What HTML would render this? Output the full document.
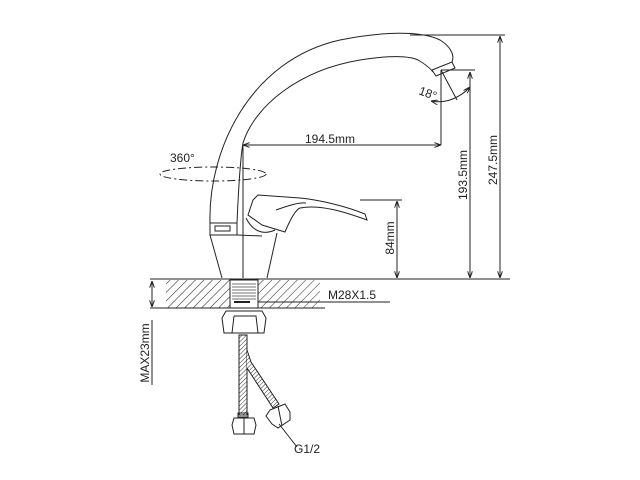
<!DOCTYPE html>
<html><head><meta charset="utf-8"><style>
html,body{margin:0;padding:0;background:#fff;width:640px;height:480px;overflow:hidden}
text{font-family:"Liberation Sans",sans-serif;fill:#222}
</style></head><body>
<svg width="640" height="480" viewBox="0 0 640 480" xmlns="http://www.w3.org/2000/svg">
<defs>
<pattern id="h" width="6" height="6" patternUnits="userSpaceOnUse" patternTransform="rotate(45)">
<line x1="0" y1="0" x2="0" y2="6" stroke="#222" stroke-width="1"/></pattern>
<pattern id="m" width="3" height="3" patternUnits="userSpaceOnUse" patternTransform="rotate(45)">
<rect width="3" height="3" fill="#fff"/><line x1="0" y1="0" x2="0" y2="3" stroke="#333" stroke-width="1"/></pattern>
<marker id="a" markerWidth="7" markerHeight="5" refX="7" refY="2.5" orient="auto-start-reverse" markerUnits="userSpaceOnUse"><path d="M0,0 L7,2.5 L0,5" fill="none" stroke="#222" stroke-width="1"/></marker>
</defs>
<g fill="none" stroke="#222" stroke-width="1">
<!-- spout -->
<path d="M210,223 C208,150 250,60 340,40 C380,32 420,30 440,40 C450,46 455,55 452,62"/>
<path d="M237,223 C238,200 240,160 243,143 C255,105 300,70 360,60 C390,55 410,56 418,60 C425,64 430,68 433,72"/>
<path d="M432,70 L452,62 L455,68 L436,76 Z"/>
<!-- body -->
<rect x="210" y="223" width="27" height="12"/>
<rect x="215" y="226" width="15" height="5"/>
<path d="M210,235 L222,278 M277,233 L267,278"/>
<path d="M237,235 L262,236"/>
<!-- handle -->
<path d="M253,200 L248,215 L262,225 L285,232 C290,220 295,210 300,208 C320,204 345,212 367,220 L365,214 C345,206 320,200 300,198 L258,195 Z"/>
<path d="M246,218 C252,230 262,236 275,230"/>
<path d="M276,210 C290,205 300,202 306,203"/>
<!-- 360 ellipse -->
<ellipse cx="213" cy="174" rx="53" ry="7" stroke-dasharray="8,3,2,3"/>
<!-- dims -->
<line x1="243" y1="145" x2="243" y2="278"/>
<line x1="243" y1="145" x2="441" y2="145" marker-start="url(#a)" marker-end="url(#a)"/>
<line x1="441" y1="70" x2="441" y2="145"/>
<line x1="441" y1="70" x2="475" y2="70"/>
<line x1="441" y1="70" x2="457" y2="100"/>
<path d="M431,101 C445,104 460,98 470,87" marker-start="url(#a)" marker-end="url(#a)"/>
<line x1="470" y1="72" x2="470" y2="278" marker-start="url(#a)" marker-end="url(#a)"/>
<line x1="410" y1="35" x2="505" y2="35"/>
<line x1="500" y1="36" x2="500" y2="278" marker-start="url(#a)" marker-end="url(#a)"/>
<line x1="360" y1="200" x2="402" y2="200"/>
<line x1="397" y1="201" x2="397" y2="278" marker-start="url(#a)" marker-end="url(#a)"/>
<line x1="150" y1="279" x2="510" y2="279"/>
<!-- counter -->
<rect x="166" y="280" width="154" height="28" fill="url(#h)" stroke="none"/>
<line x1="150" y1="308" x2="325" y2="308"/>
<rect x="230" y="280" width="28" height="28" fill="#fff"/>
<g stroke="#444" stroke-width="0.8">
<line x1="232" y1="284" x2="256" y2="284"/><line x1="232" y1="287" x2="256" y2="287"/><line x1="232" y1="290" x2="256" y2="290"/><line x1="232" y1="293" x2="256" y2="293"/><line x1="232" y1="296" x2="256" y2="296"/><line x1="232" y1="299" x2="256" y2="299"/>
</g>
<line x1="234" y1="302" x2="250" y2="302" stroke-width="2"/>
<line x1="258" y1="302" x2="390" y2="302"/>
<line x1="152" y1="281" x2="152" y2="307" marker-start="url(#a)" marker-end="url(#a)"/>
<line x1="152" y1="320" x2="152" y2="385"/>
<!-- nut -->
<path d="M226,311 L262,311 L266,318 L264,333 L224,333 L222,318 Z"/>
<path d="M234,316 L256,316 L258,333 M234,316 L232,333"/>
<rect x="239" y="335" width="8" height="80" fill="url(#m)"/>
<path d="M247,350 L251,362 L279,404 L273,408 L247,368" fill="url(#m)"/>
<rect x="238" y="413" width="10" height="4"/>
<path d="M234,418 L254,418 L256,425 L254,434 L234,434 L232,425 Z M244,418 L244,434"/>
<path d="M270,410 L285,404 L290,412 L290,420 L278,428 L272,424 L266,416 Z M278,406 L282,426"/>
<line x1="279" y1="424" x2="297" y2="447"/>
</g>
<text x="418" y="94" font-size="12" transform="rotate(20 418 94)">18°</text>
<text x="330" y="143" font-size="12" text-anchor="middle">194.5mm</text>
<text x="170" y="162" font-size="12">360°</text>
<text x="467" y="175" font-size="12" text-anchor="middle" transform="rotate(-90 467 175)">193.5mm</text>
<text x="497" y="160" font-size="12" text-anchor="middle" transform="rotate(-90 497 160)">247.5mm</text>
<text x="394" y="238" font-size="12" text-anchor="middle" transform="rotate(-90 394 238)">84mm</text>
<text x="328" y="299" font-size="12">M28X1.5</text>
<text x="149" y="353" font-size="12" text-anchor="middle" transform="rotate(-90 149 353)">MAX23mm</text>
<text x="294" y="453" font-size="12">G1/2</text>
</svg>
</body></html>
